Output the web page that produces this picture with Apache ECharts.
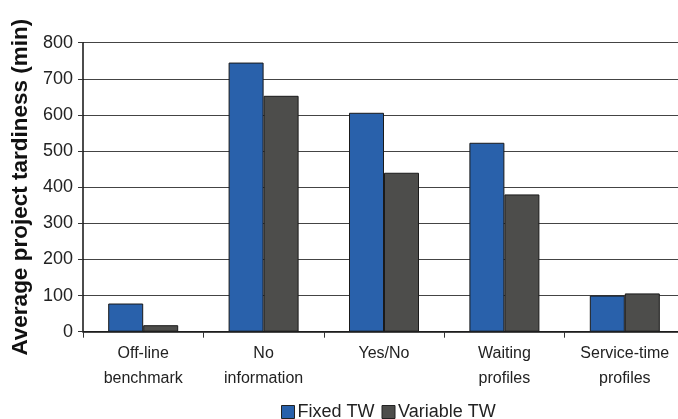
<!DOCTYPE html>
<html>
<head>
<meta charset="utf-8">
<script src="https://cdn.jsdelivr.net/npm/echarts@6/dist/echarts.min.js"></script>
<style>
html,body{margin:0;padding:0;background:#fff;}
#container{width:678px;height:419px;}
</style>
</head>
<body>
<div id="container"></div>
<script>
// categories and values
var categories = ['Off-line\nbenchmark', 'No\ninformation', 'Yes/No', 'Waiting\nprofiles', 'Service-time\nprofiles'];
var fixedTW = [78, 745, 606, 523, 100];
var variableTW = [18, 653, 440, 380, 106];
var seriesNames = ['Fixed TW', 'Variable TW'];

var myChart = echarts.init(document.getElementById('container'));
var font = 'Liberation Sans, Arial, sans-serif';
var option = {
	backgroundColor: '#fff',
	animation: false,
	color: ['#2961ab', '#4d4d4b'],
	textStyle: { fontFamily: font },
	grid: { left: 83, right: -7, top: 42.7, bottom: 87.3, containLabel: false, outerBoundsMode: 'none' },
	legend: {
		data: seriesNames,
		top: 403,
		left: 281,
		padding: 0,
		itemWidth: 13,
		itemHeight: 13,
		itemGap: 7,
		icon: 'rect',
		textStyle: { fontSize: 18, color: '#222', fontFamily: font, padding: [0, 0, 0, -2] },
		itemStyle: { borderColor: '#222', borderWidth: 1 }
	},
	xAxis: [{
		type: 'category',
		data: categories,
		axisLine: { lineStyle: { color: '#111', width: 1.5 } },
		axisTick: { show: true, length: 6, lineStyle: { color: '#333' } },
		axisLabel: { fontSize: 16, color: '#222', lineHeight: 25, margin: 9, interval: 0 }
	}],
	yAxis: [{
		type: 'value',
		min: 0,
		max: 800,
		interval: 100,
		name: 'Average project tardiness (min)',
		nameLocation: 'middle',
		nameGap: 51,
		nameTextStyle: { fontSize: 22.5, fontWeight: 'bold', color: '#111', fontFamily: font },
		axisLine: { show: true, lineStyle: { color: '#111', width: 1.5 } },
		axisTick: { show: true, length: 5, lineStyle: { color: '#333' } },
		axisLabel: { fontSize: 18, color: '#222', margin: 10 },
		splitLine: { lineStyle: { color: '#444', width: 1.2 } }
	}],
	series: [{
		name: seriesNames[0],
		type: 'bar',
		data: fixedTW,
		barWidth: 35,
		barGap: '0%',
		itemStyle: { borderColor: '#1a1a1a', borderWidth: 1 }
	}, {
		name: seriesNames[1],
		type: 'bar',
		data: variableTW,
		barWidth: 35,
		barGap: '0%',
		itemStyle: { borderColor: '#1a1a1a', borderWidth: 1 }
	}]
};
myChart.setOption(option);
</script>
</body>
</html>
